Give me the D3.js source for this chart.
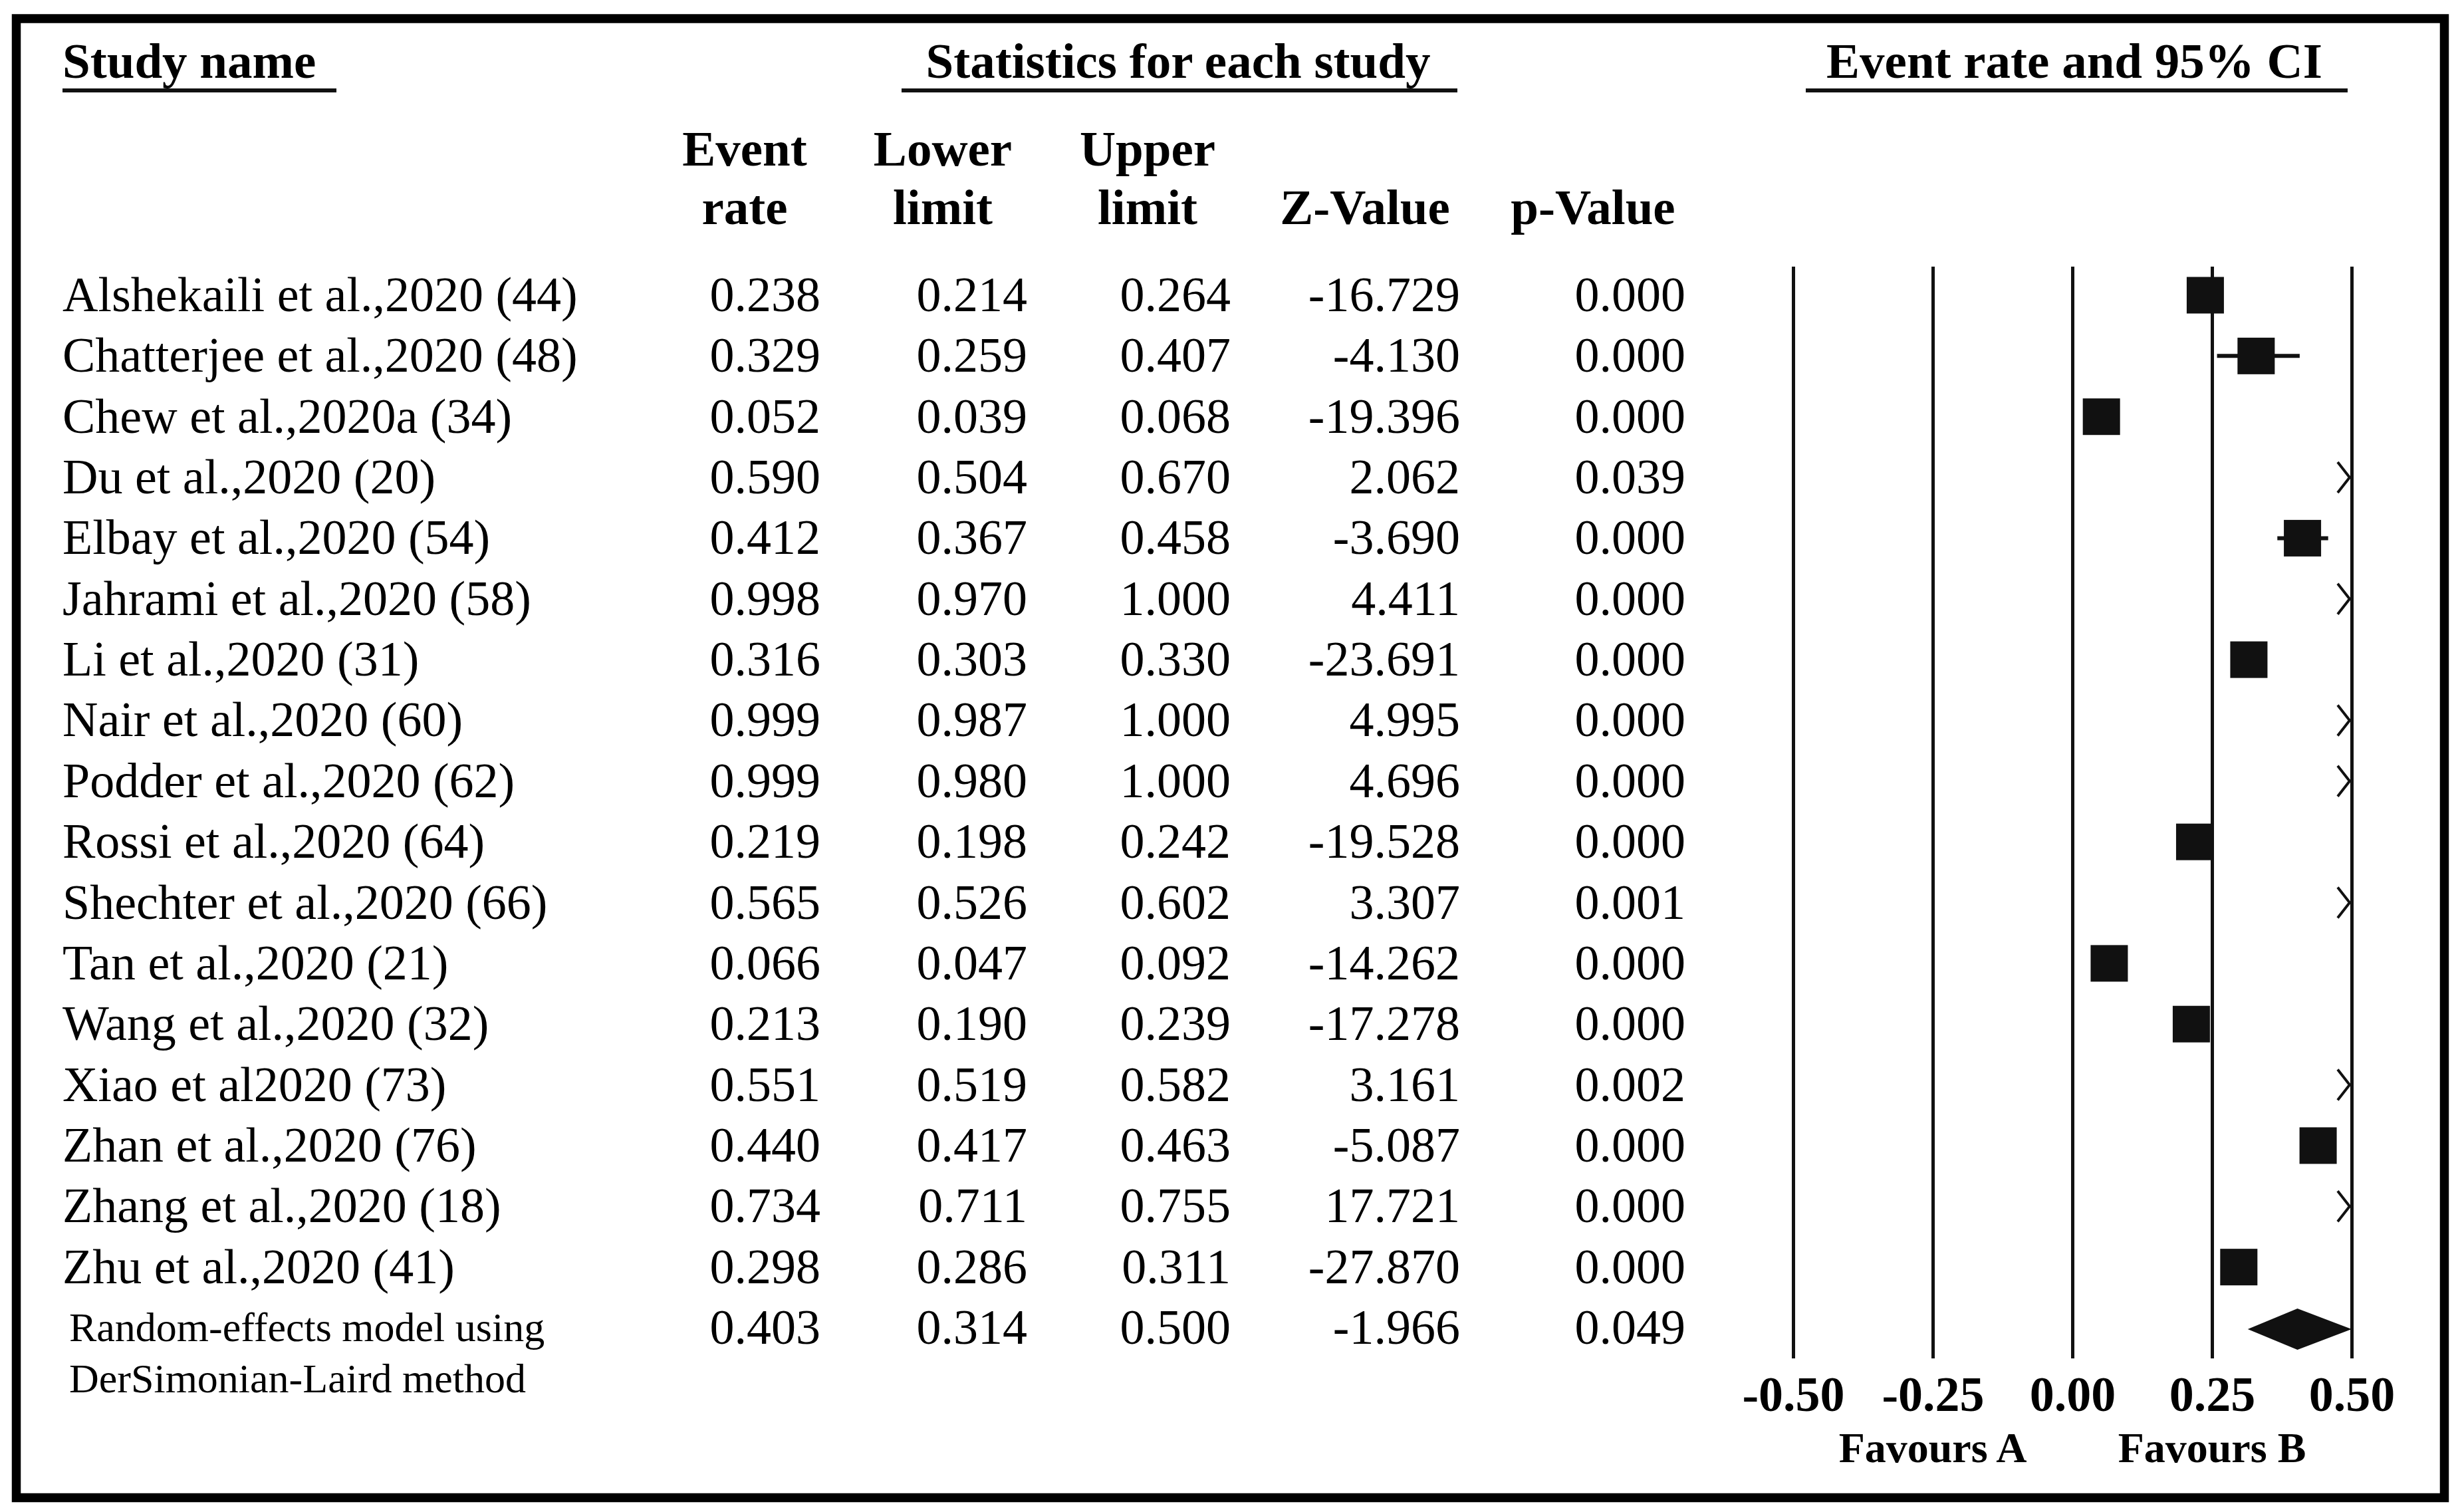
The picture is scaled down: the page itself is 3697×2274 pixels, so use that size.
<!DOCTYPE html>
<html>
<head>
<meta charset="utf-8">
<script src="https://cdn.jsdelivr.net/npm/d3@7"></script>
<style>
  body { margin: 0; background: #fff; }
  text { font-family: "Liberation Serif", "Times New Roman", serif; fill: #000; }
</style>
</head>
<body>
<svg id="forest" width="3697" height="2274"></svg>
<script>
// data
var studies = ['Alshekaili et al.,2020 (44)', 'Chatterjee et al.,2020 (48)', 'Chew et al.,2020a (34)',
  'Du et al.,2020 (20)', 'Elbay et al.,2020 (54)', 'Jahrami et al.,2020 (58)', 'Li et al.,2020 (31)',
  'Nair et al.,2020 (60)', 'Podder et al.,2020 (62)', 'Rossi et al.,2020 (64)', 'Shechter et al.,2020 (66)',
  'Tan et al.,2020 (21)', 'Wang et al.,2020 (32)', 'Xiao et al2020 (73)', 'Zhan et al.,2020 (76)',
  'Zhang et al.,2020 (18)', 'Zhu et al.,2020 (41)'];
var eventRate = [0.238, 0.329, 0.052, 0.590, 0.412, 0.998, 0.316, 0.999, 0.999, 0.219, 0.565, 0.066, 0.213, 0.551, 0.440, 0.734, 0.298];
var lowerLimit = [0.214, 0.259, 0.039, 0.504, 0.367, 0.970, 0.303, 0.987, 0.980, 0.198, 0.526, 0.047, 0.190, 0.519, 0.417, 0.711, 0.286];
var upperLimit = [0.264, 0.407, 0.068, 0.670, 0.458, 1.000, 0.330, 1.000, 1.000, 0.242, 0.602, 0.092, 0.239, 0.582, 0.463, 0.755, 0.311];
var zValue = [-16.729, -4.130, -19.396, 2.062, -3.690, 4.411, -23.691, 4.995, 4.696, -19.528, 3.307, -14.262, -17.278, 3.161, -5.087, 17.721, -27.870];
var pValue = [0.000, 0.000, 0.000, 0.039, 0.000, 0.000, 0.000, 0.000, 0.000, 0.000, 0.001, 0.000, 0.000, 0.002, 0.000, 0.000, 0.000];

// pooled estimate
var summaryLabel = ['Random-effects model using', 'DerSimonian-Laird method'];
var summary = { rate: 0.403, lower: 0.314, upper: 0.500, z: -1.966, p: 0.049 };

var axisTicks = [-0.50, -0.25, 0.00, 0.25, 0.50];
var favours = ['Favours A', 'Favours B'];

var svg = d3.select('#forest');

// outer frame
svg.append('rect')
   .attr('x', 24.5).attr('y', 28)
   .attr('width', 3652).attr('height', 2224.5)
   .attr('fill', 'none').attr('stroke', '#000').attr('stroke-width', 13.5);

// row baselines
var rowY = d3.scaleLinear().domain([0, 17]).range([468, 2021]);
var xScale = d3.scaleLinear().domain([-0.5, 0.5]).range([2697, 3537]);

var plotTop = 401, plotBottom = 2043;

// group headings
var headings = [
  { text: 'Study name', x: 94, anchor: 'start', line: [94, 506] },
  { text: 'Statistics for each study', x: 1772, anchor: 'middle', line: [1356, 2192] },
  { text: 'Event rate and 95% CI', x: 3120, anchor: 'middle', line: [2716, 3531] }
];
headings.forEach(function(h) {
  svg.append('text')
     .attr('x', h.x).attr('y', 117)
     .attr('text-anchor', h.anchor)
     .attr('font-size', 75).attr('font-weight', 'bold')
     .text(h.text);
  svg.append('line')
     .attr('x1', h.line[0]).attr('x2', h.line[1])
     .attr('y1', 136).attr('y2', 136)
     .attr('stroke', '#111').attr('stroke-width', 6);
});

// column headers
var columns = [
  { top: 'Event', bottom: 'rate', cx: 1120, right: 1234 },
  { top: 'Lower', bottom: 'limit', cx: 1418, right: 1545 },
  { top: 'Upper', bottom: 'limit', cx: 1726, right: 1851 },
  { top: '', bottom: 'Z-Value', cx: 2053, right: 2196 },
  { top: '', bottom: 'p-Value', cx: 2396, right: 2535 }
];
columns.forEach(function(c) {
  svg.append('text').attr('x', c.cx).attr('y', 249)
     .attr('text-anchor', 'middle').attr('font-size', 75).attr('font-weight', 'bold')
     .text(c.top);
  svg.append('text').attr('x', c.cx).attr('y', 337)
     .attr('text-anchor', 'middle').attr('font-size', 75).attr('font-weight', 'bold')
     .text(c.bottom);
});

// table body
var rows = studies.map(function(s, i) {
  return { name: s, vals: [eventRate[i], lowerLimit[i], upperLimit[i], zValue[i], pValue[i]],
           rate: eventRate[i], lower: lowerLimit[i], upper: upperLimit[i] };
});

var body = svg.append('g').attr('class', 'rows');
rows.forEach(function(r, i) {
  body.append('text').attr('x', 94).attr('y', rowY(i))
      .attr('font-size', 74).text(r.name);
  r.vals.forEach(function(v, j) {
    body.append('text').attr('x', columns[j].right).attr('y', rowY(i))
        .attr('text-anchor', 'end').attr('font-size', 74).text(v.toFixed(3));
  });
});

// summary row
summaryLabel.forEach(function(t, k) {
  svg.append('text').attr('x', 104).attr('y', k === 0 ? 2017 : 2094)
     .attr('font-size', 62).text(t);
});
[summary.rate, summary.lower, summary.upper, summary.z, summary.p].forEach(function(v, j) {
  svg.append('text').attr('x', columns[j].right).attr('y', rowY(17))
     .attr('text-anchor', 'end').attr('font-size', 74).text(v.toFixed(3));
});

// axis with full-height gridlines
var xAxis = d3.axisBottom(xScale)
  .tickValues(axisTicks)
  .tickSizeInner(-(plotBottom - plotTop))
  .tickSizeOuter(0)
  .tickPadding(26)
  .tickFormat(function(d) { return d.toFixed(2); });

var axisG = svg.append('g')
  .attr('transform', 'translate(0,' + plotBottom + ')')
  .call(xAxis);
axisG.select('.domain').remove();
axisG.selectAll('.tick line').attr('stroke', '#111').attr('stroke-width', 5);
axisG.selectAll('.tick text')
  .attr('font-family', '"Liberation Serif", "Times New Roman", serif')
  .attr('font-size', 74).attr('font-weight', 'bold').attr('fill', '#000');

svg.selectAll('.favours')
   .data(favours)
   .enter().append('text')
   .attr('class', 'favours')
   .attr('x', function(d, i) { return xScale(i === 0 ? -0.25 : 0.25); })
   .attr('y', 2199)
   .attr('text-anchor', 'middle')
   .attr('font-size', 64).attr('font-weight', 'bold')
   .text(function(d) { return d; });

// study markers
var maxX = xScale.domain()[1];
var marks = svg.append('g').attr('class', 'marks');
var boxW = 56, boxH = 55;
rows.forEach(function(r, i) {
  var cy = rowY(i) - 24;
  if (r.lower > maxX) {
    // off scale: arrow at the right edge
    var tip = xScale(maxX) - 3;
    marks.append('path')
      .attr('d', 'M' + (tip - 18) + ',' + (cy - 23) + 'L' + tip + ',' + cy + 'L' + (tip - 18) + ',' + (cy + 23))
      .attr('fill', 'none').attr('stroke', '#111').attr('stroke-width', 4);
    return;
  }
  marks.append('line')
    .attr('x1', xScale(r.lower)).attr('x2', xScale(Math.min(r.upper, maxX)))
    .attr('y1', cy).attr('y2', cy)
    .attr('stroke', '#111').attr('stroke-width', 6);
  marks.append('rect')
    .attr('x', xScale(r.rate) - boxW / 2).attr('y', cy - boxH / 2)
    .attr('width', boxW).attr('height', boxH)
    .attr('fill', '#111');
});

// pooled diamond
var dy = rowY(17) - 22;
marks.append('path')
  .attr('d', 'M' + xScale(summary.lower) + ',' + dy +
             'L' + xScale(summary.rate) + ',' + (dy - 31) +
             'L' + xScale(summary.upper) + ',' + dy +
             'L' + xScale(summary.rate) + ',' + (dy + 31) + 'Z')
  .attr('fill', '#111');
</script>
</body>
</html>
